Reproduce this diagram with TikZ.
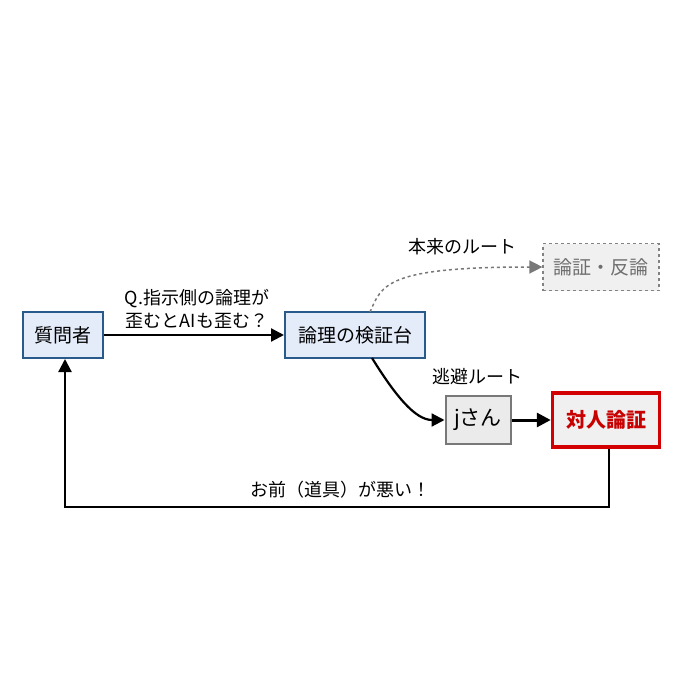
\documentclass[tikz,border=0pt]{standalone}
\usepackage{fontspec}
\setmainfont{Noto Sans CJK JP}
\usetikzlibrary{arrows.meta}
\definecolor{bblue}{RGB}{40,90,140}
\definecolor{fblue}{RGB}{228,236,250}
\definecolor{gdash}{RGB}{130,130,130}
\definecolor{gfill}{RGB}{240,240,240}
\definecolor{gtext}{RGB}{110,110,110}
\definecolor{jdraw}{RGB}{120,120,120}
\definecolor{jfill}{RGB}{235,235,235}
\definecolor{rdraw}{RGB}{210,0,0}
\definecolor{rtext}{RGB}{200,0,0}
\begin{document}
\begin{tikzpicture}[x=1pt,y=-1pt,
  box/.style={draw=#1,line width=2pt,minimum height=46pt,inner sep=0pt,font=\fontsize{19}{22}\selectfont},
  lbl/.style={font=\fontsize{18}{23}\selectfont,align=center},
  arr/.style={line width=2.2pt,-{Triangle[length=13pt,width=13pt]}},
  darr/.style={line width=1.5pt,dashed,draw=jdraw,-{Triangle[length=13pt,width=13pt]}}]
\useasboundingbox (0,0) rectangle (682,682);
\node[box=bblue,fill=fblue,minimum width=80pt] (q) at (63,335) {質問者};
\node[box=bblue,fill=fblue,minimum width=140pt] (v) at (355,335) {論理の検証台};
\node[box=gdash,dashed,line width=1.2pt,fill=gfill,minimum width=116pt,minimum height=47pt,text=gtext] (r) at (601,267) {論証・反論};
\node[box=jdraw,fill=jfill,minimum width=65pt,minimum height=48pt,font=\fontsize{21}{22}\selectfont] (j) at (478,420) {jさん};
\node[box=rdraw,line width=3.5pt,fill=gfill,minimum width=107pt,minimum height=54pt,text=rtext,font=\bfseries\fontsize{20}{22}\selectfont] (a) at (606,420) {対人論証};
\draw[arr] (q) -- (v) node[lbl,midway,above=2pt,xshift=3pt] {Q.指示側の論理が\\歪むとAIも歪む？};
\coordinate (vs) at (370,312);
\draw[darr] (vs) .. controls (382,285) and (385,267) .. (r.west);
\node[lbl] at (462,247) {本来のルート};
\coordinate (vb) at (372,358);
\draw[arr] (vb) .. controls (395,395) and (415,420) .. (j.west);
\node[lbl] at (477,377) {逃避ルート};
\draw[line width=3pt,-{Triangle[length=14pt,width=14pt]}] (j) -- (a);
\coordinate (c1) at (609,507);
\coordinate (c2) at (65,507);
\draw[arr] (a.south -| c1) -- (c1) -- (c2) -- (q.south -| c2);
\node[lbl] at (340,490) {お前（道具）が悪い！};
\end{tikzpicture}
\end{document}
